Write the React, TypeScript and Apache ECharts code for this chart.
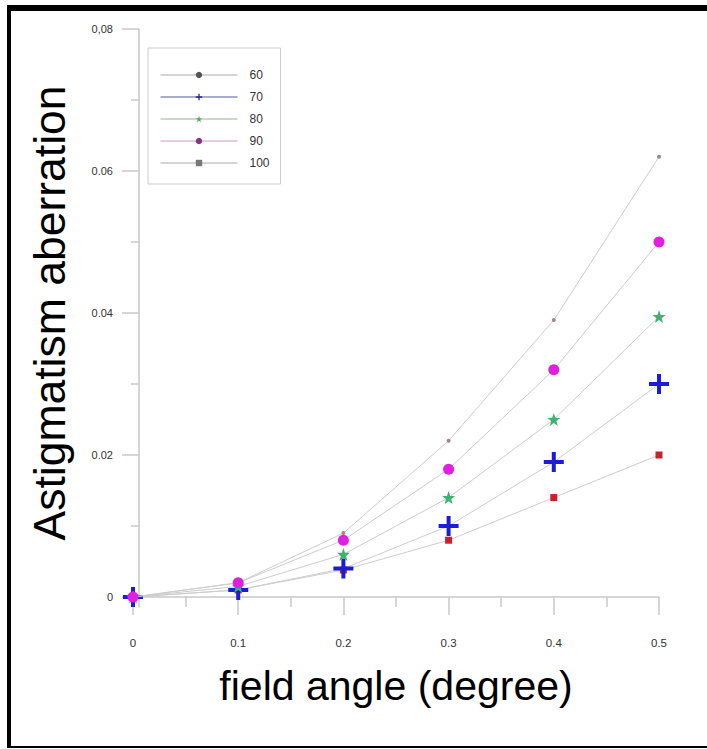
import React, { useEffect, useRef } from "react";
import * as echarts from "echarts";

const xValues = [0, 0.1, 0.2, 0.3, 0.4, 0.5];
const s60 = [0, 0.002, 0.009, 0.022, 0.039, 0.062];
const s70 = [0, 0.001, 0.004, 0.01, 0.019, 0.03];
const s80 = [0, 0.0015, 0.006, 0.014, 0.025, 0.0395];
const s90 = [0, 0.002, 0.008, 0.018, 0.032, 0.05];
const s100 = [0, 0.001, 0.0038, 0.008, 0.014, 0.02];
const seriesNames = ["60", "70", "80", "90", "100"];
const xTickLabels = ["0", "0.1", "0.2", "0.3", "0.4", "0.5"];
const yTickLabels = ["0", "0.02", "0.04", "0.06", "0,08"];

const PLUS = "path://M8,0h4v8h8v4h-8v8h-4v-8h-8v-4h8z";
const STAR =
  "path://M6,0L7.41,4.06L11.71,4.15L8.28,6.74L9.53,10.85L6,8.4L2.47,10.85L3.72,6.74L0.29,4.15L4.59,4.06Z";

const pairs = (ys: number[]) => xValues.map((x, i) => [x, ys[i]]);

export default function App() {
  const ref = useRef<HTMLDivElement>(null);
  useEffect(() => {
    document.body.style.margin = "0";
    const chart = echarts.init(ref.current!, null, { renderer: "svg" });
    const axisGray = "#c9c9c9";
    const lineGray = "#cdcdcd";
    const font = "Liberation Sans, Arial, sans-serif";
    const mk = (name: string, ys: number[], symbol: string, size: number, color: string, z: number) => ({
      name,
      type: "line",
      data: pairs(ys),
      symbol,
      symbolSize: size,
      showAllSymbol: true,
      z,
      lineStyle: { color: lineGray, width: 1 },
      itemStyle: { color, borderWidth: 0 },
      emphasis: { disabled: true },
    });
    chart.setOption({
      animation: false,
      backgroundColor: "#ffffff",
      grid: { left: 133, right: 48, top: 29, bottom: 152, containLabel: false },
      xAxis: {
        type: "value",
        min: 0,
        max: 0.5,
        interval: 0.1,
        offset: 10,
        axisLine: { show: true, lineStyle: { color: axisGray, width: 1.5 } },
        axisTick: { show: true, length: 18, lineStyle: { color: axisGray, width: 1.5 } },
        minorTick: { show: true, splitNumber: 2, length: 10, lineStyle: { color: axisGray, width: 1.5 } },
        splitLine: { show: false },
        axisLabel: {
          margin: 30,
          fontSize: 11.5,
          color: "#333",
          fontFamily: font,
          formatter: (v: number) => xTickLabels[Math.round(v / 0.1)] ?? "",
        },
        name: "field angle (degree)",
        nameLocation: "middle",
        nameGap: 58,
        nameTextStyle: { fontSize: 41, color: "#000", fontFamily: font },
      },
      yAxis: {
        type: "value",
        min: 0,
        max: 0.08,
        interval: 0.02,
        offset: -6,
        axisLine: { show: true, lineStyle: { color: axisGray, width: 1.5 } },
        axisTick: { show: true, length: 17, lineStyle: { color: axisGray, width: 1.5 } },
        minorTick: { show: true, splitNumber: 2, length: 8, lineStyle: { color: axisGray, width: 1.5 } },
        splitLine: { show: false },
        axisLabel: {
          margin: 26,
          fontSize: 11,
          color: "#333",
          fontFamily: font,
          formatter: (v: number) => yTickLabels[Math.round(v / 0.02)] ?? "",
        },
        name: "Astigmatism aberration",
        nameLocation: "middle",
        nameGap: 67,
        nameTextStyle: { fontSize: 44.5, color: "#000", fontFamily: font },
      },
      legend: {
        left: 148,
        top: 48,
        orient: "vertical",
        padding: [20, 11, 14, 12],
        itemWidth: 77,
        itemHeight: 8,
        itemGap: 8,
        backgroundColor: "#fff",
        borderColor: "#cccccc",
        borderWidth: 1,
        textStyle: { fontSize: 12, color: "#333", fontFamily: font, lineHeight: 14, padding: [0, 0, 0, 7] },
        data: [
          { name: "60", itemStyle: { color: "#555" }, lineStyle: { color: "#aaa", width: 1 } },
          { name: "70", itemStyle: { color: "#22229a" }, lineStyle: { color: "#5555aa", width: 1 } },
          { name: "80", itemStyle: { color: "#55aa55" }, lineStyle: { color: "#88bb88", width: 1 } },
          { name: "90", itemStyle: { color: "#883388" }, lineStyle: { color: "#cc99cc", width: 1 } },
          { name: "100", itemStyle: { color: "#777" }, lineStyle: { color: "#aaa", width: 1 } },
        ],
      },
      series: [
        mk(seriesNames[4], s100, "rect", 7, "#c8202c", 2),
        mk(seriesNames[0], s60, "circle", 4, "#a08888", 3),
        mk(seriesNames[1], s70, PLUS, 20, "#1c1cd6", 4),
        mk(seriesNames[2], s80, STAR, 13, "#3cb371", 5),
        mk(seriesNames[3], s90, "circle", 11, "#e020e0", 6),
      ],
      graphic: [
        { type: "line", shape: { x1: 139, y1: 596, x2: 139, y2: 607.5 }, style: { stroke: axisGray, lineWidth: 1.5 }, z: 1 },
        { type: "rect", shape: { x: 7, y: 5, width: 700, height: 6 }, style: { fill: "#000" }, z: 100 },
        { type: "rect", shape: { x: 7, y: 5, width: 4, height: 743 }, style: { fill: "#000" }, z: 100 },
        { type: "rect", shape: { x: 7, y: 746, width: 700, height: 2 }, style: { fill: "#000" }, z: 100 },
      ],
    });
    return () => chart.dispose();
  }, []);
  return <div ref={ref} style={{ width: 707, height: 749 }} />;
}
